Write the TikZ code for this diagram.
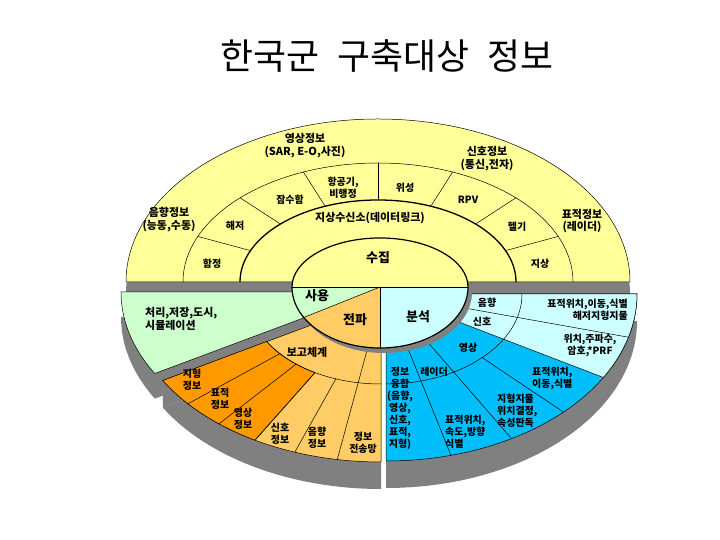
\documentclass[tikz,border=0pt]{standalone}
\usepackage{fontspec}
\setmainfont{Noto Sans CJK KR}
\usetikzlibrary{positioning}
\definecolor{infoyellow}{RGB}{255,255,153}
\definecolor{infogreen}{RGB}{204,255,204}
\definecolor{infoorange}{RGB}{255,153,0}
\definecolor{infopeach}{RGB}{255,204,102}
\definecolor{infocyan}{RGB}{204,255,255}
\definecolor{infoblue}{RGB}{0,190,250}
\definecolor{infogray}{RGB}{128,128,128}

\tikzset{
  lbl/.style={font=\fontsize{10}{12}\selectfont\bfseries, align=center, inner sep=0pt},
  biglbl/.style={font=\fontsize{11}{13}\selectfont\bfseries, align=center, inner sep=0pt},
  core/.style={font=\fontsize{13}{15}\selectfont\bfseries, inner sep=0pt},
  rim/.style={draw=black, line width=0.5pt},
}

\begin{document}
\begin{tikzpicture}[x=1bp,y=1bp]
    \useasboundingbox (0,0) rectangle (720,540);
    \fill[white] (0,0) rectangle (720,540);

    % Title
    \node (title) at (387,484) {\fontsize{36}{42}\selectfont 한국군\hspace{18bp}구축대상\hspace{18bp}정보};

    % Upper half: collection
    \coordinate (cy) at (378,258);
    \fill[infogray] ([shift={(252,-12)}]cy) arc[start angle=0, end angle=180, x radius=252, y radius=163] -- cycle;
    \filldraw[fill=infoyellow, rim] ([shift={(252,0)}]cy) arc[start angle=0, end angle=180, x radius=252, y radius=163] -- cycle;
    \draw[rim] ([shift={(195,0)}]cy) arc[start angle=0, end angle=180, x radius=195, y radius=119];
    \draw[line width=1.3pt] ([shift={(138,0)}]cy) arc[start angle=0, end angle=180, x radius=138, y radius=82];
    \foreach \k [evaluate=\k as \a using 22.5*\k] in {1,...,7} {
        \draw[rim] ([shift={(cy)}]\a:138 and 82) -- ([shift={(cy)}]\a:195 and 119);
    }

    % Use sector
    \coordinate (cg) at (373,248);
    \fill[infogray] ([shift={(0,-25)}]cg) -- ++(180:252 and 163) arc[start angle=180, end angle=210, x radius=252, y radius=163] -- cycle;
    \fill[infogray] (cg) -- ([shift={(cg)}]210:252 and 163) -- ++(0,-25) -- ([shift={(0,-25)}]cg) -- cycle;
    \filldraw[fill=infogreen, rim] (cg) -- ++(180:252 and 163) arc[start angle=180, end angle=210, x radius=252, y radius=163] -- cycle;

    % Dissemination sector
    \coordinate (co) at (381,241);
    \fill[infogray] ([shift={(0,-27)}]co) -- ++(210:252 and 163) arc[start angle=210, end angle=270, x radius=252, y radius=163] -- cycle;
    \fill[infogray] (co) -- ([shift={(co)}]210:252 and 163) -- ++(0,-27) -- ([shift={(0,-27)}]co) -- cycle;
    \filldraw[fill=infopeach, rim] (co) -- ++(210:252 and 163) arc[start angle=210, end angle=270, x radius=252, y radius=163] -- cycle;
    \filldraw[fill=infoorange, rim] ([shift={(co)}]210:132 and 85) -- ([shift={(co)}]210:252 and 163)
        arc[start angle=210, end angle=240, x radius=252, y radius=163] -- ([shift={(co)}]240:132 and 85)
        arc[start angle=240, end angle=210, x radius=132, y radius=85] -- cycle;
    \draw[rim] ([shift={(co)}]210:132 and 85) arc[start angle=210, end angle=270, x radius=132, y radius=85];
    \foreach \a in {220,230,240,250} {
        \draw[rim] ([shift={(co)}]\a:132 and 85) -- ([shift={(co)}]\a:252 and 163);
    }
    \draw[rim] (co) -- ([shift={(co)}]260:252 and 163);

    % Analysis sector
    \coordinate (cb) at (386,246);
    \fill[infogray] ([shift={(0,-27)}]cb) -- ++(270:251 and 167) arc[start angle=270, end angle=360, x radius=251, y radius=167] -- cycle;
    \filldraw[fill=infoblue, rim] (cb) -- ++(270:251 and 167) arc[start angle=270, end angle=360, x radius=251, y radius=167] -- cycle;
    \filldraw[fill=infocyan, rim] (cb) -- ++(330:251 and 167) arc[start angle=330, end angle=360, x radius=251, y radius=167] -- cycle;
    \draw[rim] ([shift={(cb)}]270:136 and 90) arc[start angle=270, end angle=360, x radius=136, y radius=90];
    \foreach \a in {285,300,345} {
        \draw[rim] (cb) -- ([shift={(cb)}]\a:251 and 167);
    }
    \draw[rim] ([shift={(cb)}]315:136 and 90) -- ([shift={(cb)}]315:251 and 167);

    % Centre ellipse
    \coordinate (ce) at (380,253);
    \fill[infogray] ([shift={(-84,-5)}]ce) arc[start angle=180, end angle=360, x radius=88, y radius=61] -- cycle;
    \fill[infoyellow] ([shift={(88,0)}]ce) arc[start angle=0, end angle=180, x radius=88, y radius=49] -- cycle;
    \fill[infogreen] (ce) -- ++(-88,0) arc[start angle=180, end angle=210, x radius=88, y radius=61] -- cycle;
    \fill[infopeach] (ce) -- ++(210:88 and 61) arc[start angle=210, end angle=270, x radius=88, y radius=61] -- cycle;
    \fill[infocyan] (ce) -- ++(270:88 and 61) arc[start angle=270, end angle=360, x radius=88, y radius=61] -- cycle;
    \draw[rim] ([shift={(-88,0)}]ce) -- ([shift={(88,0)}]ce);
    \draw[rim] (ce) -- ([shift={(ce)}]210:88 and 61);
    \draw[rim] (ce) -- ([shift={(ce)}]270:88 and 61);
    \draw[line width=1.2pt] ([shift={(88,0)}]ce) arc[start angle=0, end angle=180, x radius=88, y radius=49]
        arc[start angle=180, end angle=360, x radius=88, y radius=61];

    % Labels of the upper half
    \node[biglbl] (imgsrc) at (305,394) {영상정보\\(SAR, E-O,사진)};
    \node[biglbl] (sigsrc) at (487,381) {신호정보\\(통신,전자)};
    \node[biglbl] (sndsrc) at (169,320) {음향정보\\(능동,수동)};
    \node[biglbl] (tgtsrc) at (582,319) {표적정보\\(레이더)};
    \node[lbl] (ship) at (212,276) {함정};
    \node[lbl] (seabed) at (235,314) {해저};
    \node[lbl] (sub) at (290,340) {잠수함};
    \node[lbl] (air) at (343,352) {항공기,\\비행정};
    \node[lbl] (sat) at (405,352) {위성};
    \node[lbl] (rpv) at (468,340) {RPV};
    \node[lbl] (heli) at (517,313) {헬기};
    \node[lbl] (ground) at (540,276) {지상};
    \node[biglbl] (link) at (370,322) {지상수신소(데이터링크)};

    % Labels of the centre
    \node[core] (collect) at (378,282) {수집};
    \node[core] (use) at (317,244) {사용};
    \node[core] (spread) at (355,220) {전파};
    \node[core] (analyse) at (418,223) {분석};

    % Labels of the lower sectors
    \node[biglbl, align=left, anchor=west] (proc) at (145,221) {처리,저장,도시,\\시뮬레이션};
    \node[biglbl] (report) at (307,188) {보고체계};
    \node[lbl] (terrain) at (192,160) {지형\\정보};
    \node[lbl] (target) at (220,141) {표적\\정보};
    \node[lbl] (image) at (243,121) {영상\\정보};
    \node[lbl] (signal) at (280,106) {신호\\정보};
    \node[lbl] (sound) at (317,102) {음향\\정보};
    \node[lbl] (net) at (363,97) {정보\\전송망};
    \node[lbl] (asnd) at (487,237) {음향};
    \node[lbl] (asig) at (482,218) {신호};
    \node[lbl] (aimg) at (468,192) {영상};
    \node[lbl] (radar) at (434,168) {레이더};
    \node[lbl] (fusion) at (400,132) {정보\\융합\\(음향,\\영상,\\신호,\\표적,\\지형)};
    \node[lbl, align=left, anchor=west] (track) at (445,108) {표적위치,\\속도,방향\\식별};
    \node[lbl, align=left, anchor=west] (terrfix) at (497,129) {지형지물\\위치결정,\\속성판독};
    \node[lbl, align=left, anchor=west] (move) at (532,162) {표적위치,\\이동,식별};
    \node[lbl, align=right, anchor=east] (seafix) at (628,230) {표적위치,이동,식별\\해저지형지물};
    \node[lbl] (freq) at (590,195) {위치,주파수,\\암호,*PRF};
\end{tikzpicture}
\end{document}
